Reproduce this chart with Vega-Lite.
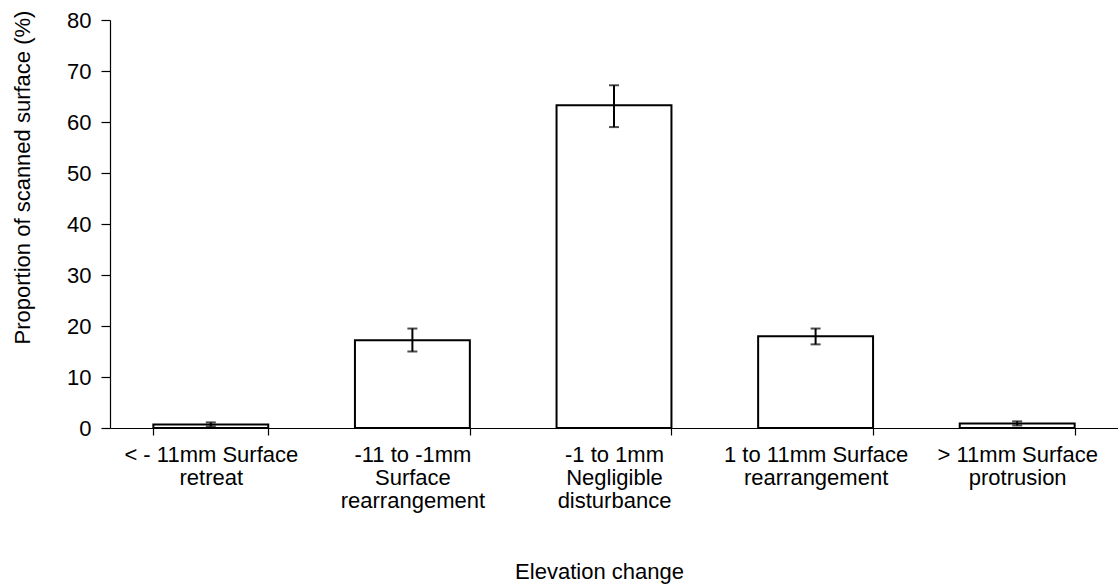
{
  "$schema": "https://vega.github.io/schema/vega-lite/v6.json",
  "width": 1008,
  "height": 408,
  "autosize": {"type": "none"},
  "padding": {"left": 110, "top": 20, "right": 0, "bottom": 159},
  "background": "white",
  "config": {
    "view": {"stroke": null},
    "font": "Liberation Sans",
    "axis": {"labelColor": "black", "titleColor": "black", "domainColor": "black", "tickColor": "black", "labelFont": "Liberation Sans", "titleFont": "Liberation Sans", "labelFontSize": 22, "titleFontSize": 22, "titleFontWeight": "normal", "grid": false, "domainWidth": 1.2, "tickWidth": 1.2}
  },
  "data": {
    "values": [
      {"category": "< - 11mm Surface\nretreat", "order": 1, "value": 0.7, "lo": 0.3, "hi": 1.1},
      {"category": "-11  to -1mm\nSurface\nrearrangement", "order": 2, "value": 17.2, "lo": 15.0, "hi": 19.5},
      {"category": "-1 to 1mm\nNegligible\ndisturbance", "order": 3, "value": 63.3, "lo": 59.0, "hi": 67.2},
      {"category": "1 to 11mm Surface\nrearrangement", "order": 4, "value": 18.0, "lo": 16.4, "hi": 19.5},
      {"category": "> 11mm Surface\nprotrusion", "order": 5, "value": 0.9, "lo": 0.5, "hi": 1.3}
    ]
  },
  "encoding": {
    "x": {
      "field": "category",
      "type": "nominal",
      "sort": {"field": "order"},
      "scale": {"paddingInner": 0.43, "paddingOuter": 0.215},
      "axis": {
        "title": "Elevation change",
        "labelAngle": 0,
        "labelExpr": "isValid(datum.value) ? split(datum.value, '\\n') : ''",
        "labelLineHeight": 23,
        "labelPadding": 9,
        "labelBaseline": "top",
        "tickBand": "extent",
        "tickSize": 7,
        "titlePadding": 50,
        "titleX": 489,
        "labelLimit": 0
      }
    }
  },
  "layer": [
    {
      "mark": {"type": "bar", "fill": "white", "stroke": "black", "strokeWidth": 2},
      "encoding": {
        "y": {
          "field": "value",
          "type": "quantitative",
          "scale": {"domain": [0, 80], "nice": false},
          "axis": {"title": "Proportion of scanned surface (%)", "values": [0, 10, 20, 30, 40, 50, 60, 70, 80], "tickSize": 9, "labelPadding": 10, "titleX": -76, "titleY": 157}
        }
      }
    },
    {
      "mark": {"type": "rule", "stroke": "black", "strokeWidth": 2},
      "encoding": {"y": {"field": "lo", "type": "quantitative"}, "y2": {"field": "hi"}}
    },
    {
      "mark": {"type": "tick", "color": "black", "size": 10, "thickness": 2, "orient": "horizontal"},
      "encoding": {"y": {"field": "lo", "type": "quantitative"}}
    },
    {
      "mark": {"type": "tick", "color": "black", "size": 10, "thickness": 2, "orient": "horizontal"},
      "encoding": {"y": {"field": "hi", "type": "quantitative"}}
    }
  ]
}
